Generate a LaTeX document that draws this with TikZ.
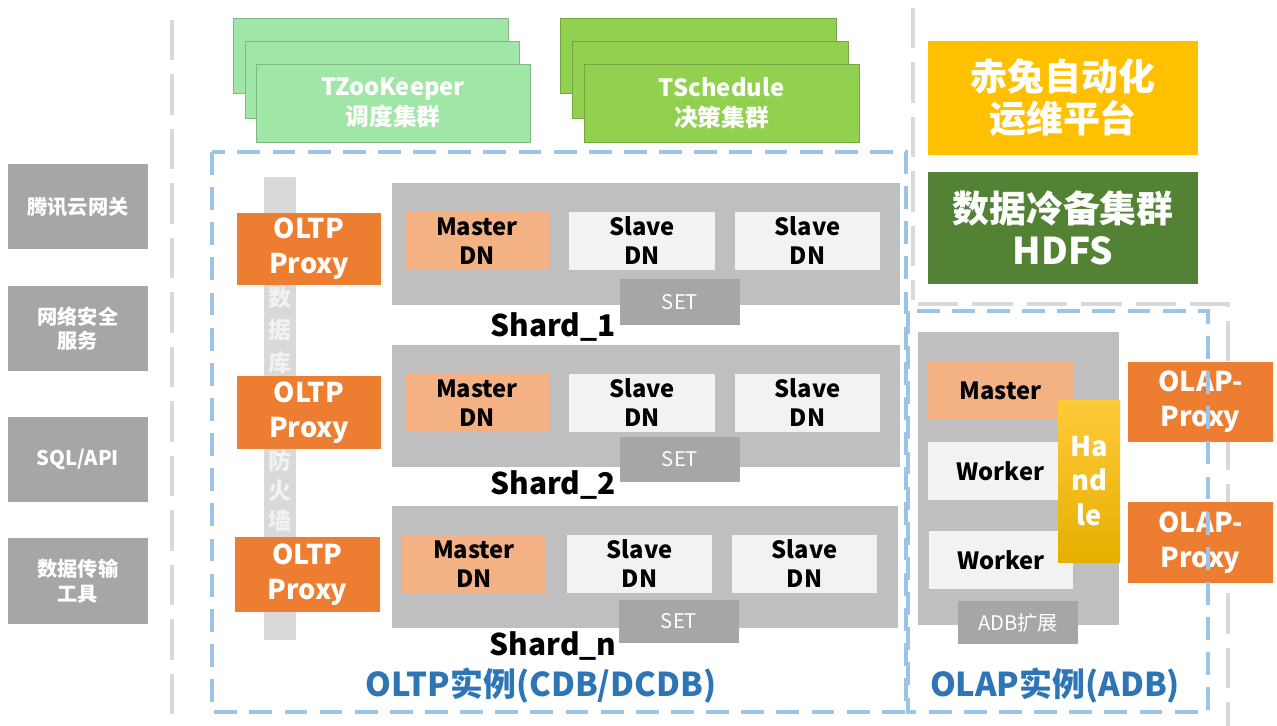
\documentclass[tikz,border=0pt]{standalone}
\usepackage{fontspec}
\setmainfont{Noto Sans CJK SC}
\definecolor{sidegray}{HTML}{A6A6A6}
\definecolor{zkgreen}{HTML}{A0E6A6}
\definecolor{tsgreen}{HTML}{92D050}
\definecolor{opsyellow}{HTML}{FFC000}
\definecolor{hdfsgreen}{HTML}{548235}
\definecolor{proxyorange}{HTML}{ED7D31}
\definecolor{masterfill}{HTML}{F4B183}
\definecolor{slavefill}{HTML}{F2F2F2}
\definecolor{shardfill}{HTML}{BFBFBF}
\definecolor{linegray}{HTML}{D9D9D9}
\definecolor{dashblue}{HTML}{9DC3E6}
\definecolor{titleblue}{HTML}{2E75B6}
\definecolor{handletop}{HTML}{FFCA3A}
\definecolor{handlebot}{HTML}{E5B000}
\newcommand\setfs[2]{\fontsize{#1}{#2}\selectfont}

\begin{document}
\begin{tikzpicture}[x=0.02cm, y=-0.02cm,
  every node/.style = {inner sep=0pt, outer sep=0pt, align=center},
  sz/.style 2 args = {minimum width=#1*0.02cm, minimum height=#2*0.02cm},
  sidebox/.style = {fill=sidegray, text=white, font=\bfseries\setfs{11.5}{14}},
  zkbox/.style = {fill=zkgreen, draw=zkgreen!80!black, line width=0.3pt},
  tsbox/.style = {fill=tsgreen, draw=tsgreen!80!black, line width=0.3pt},
  clustertext/.style = {text=white, font=\bfseries\setfs{13.5}{17}},
  bigbox/.style = {text=white, font=\bfseries\setfs{21}{24}},
  proxy/.style = {fill=proxyorange, text=white, font=\bfseries\setfs{15.5}{20}},
  shard/.style = {fill=shardfill},
  master/.style = {fill=masterfill, font=\bfseries\setfs{13.5}{16.5}},
  slave/.style = {fill=slavefill, font=\bfseries\setfs{13.5}{16.5}},
  setbox/.style = {fill=sidegray, text=white, font=\setfs{11.5}{14}},
  shardname/.style = {font=\bfseries\setfs{17}{20}},
  instname/.style = {text=titleblue, font=\bfseries\setfs{18.7}{22}},
  graydash/.style = {draw=linegray, line width=2.8pt, dash pattern=on 23pt off 8pt},
  bluedash/.style = {draw=dashblue, line width=2.3pt, dash pattern=on 13pt off 7pt}]
  \useasboundingbox (0,0) rectangle (1277,726);

  \draw[graydash] (172,20) -- (172,726);
  \draw[graydash] (913,8) -- (913,300);
  \draw[graydash] (918,304) -- (1228,304) -- (1228,726);

  \node[sidebox, sz={140}{85}] (gw) at (78,206.5) {腾讯云网关};
  \node[sidebox, sz={140}{85}] (sec) at (78,328.5) {网络安全\\服务};
  \node[sidebox, sz={140}{85}] (api) at (78,459.5) {SQL/API};
  \node[sidebox, sz={140}{86}] (dts) at (78,581) {数据传输\\工具};

  \path[zkbox] (233,18) rectangle (508,93);
  \path[zkbox] (245,41) rectangle (519,118);
  \node[zkbox, clustertext, sz={274}{78}] (zk) at (393,103) {TZooKeeper\\调度集群};
  \path[tsbox] (560,18) rectangle (836,93);
  \path[tsbox] (572,41) rectangle (848,118);
  \node[tsbox, clustertext, sz={275}{78}] (ts) at (721.5,103) {TSchedule\\决策集群};

  \node[bigbox, fill=opsyellow, sz={270}{114}] (ops) at (1063,98) {赤兔自动化\\运维平台};
  \node[bigbox, fill=hdfsgreen, sz={270}{111}] (hdfs) at (1063,228) {数据冷备集群\\HDFS};

  \node[fill=linegray, sz={32}{463}] (fw) at (280,408.5) {};
  \node[text=slavefill, font=\bfseries\setfs{13}{18.5}] (fwa) at (280,330) {数\\据\\库};
  \node[text=slavefill, font=\bfseries\setfs{13}{17}] (fwb) at (280,491) {防\\火\\墙};

  \node[shard, sz={508}{122}] (s1) at (646,244) {};
  \node[master, sz={144}{58}] (m1) at (477,241) {Master\\DN};
  \node[slave, sz={146}{58}] (s1a) at (642,241) {Slave\\DN};
  \node[slave, sz={145}{58}] (s1b) at (807.5,241) {Slave\\DN};
  \node[setbox, sz={120}{46}] (set1) at (680,302) {SET};
  \node[shardname] (n1) at (553,327) {Shard\_1};

  \node[shard, sz={508}{122}] (s2) at (646,406) {};
  \node[master, sz={144}{58}] (m2) at (477,403) {Master\\DN};
  \node[slave, sz={146}{58}] (s2a) at (642,403) {Slave\\DN};
  \node[slave, sz={145}{58}] (s2b) at (807.5,403) {Slave\\DN};
  \node[setbox, sz={120}{45}] (set2) at (680,459.5) {SET};
  \node[shardname] (n2) at (553,485) {Shard\_2};

  \node[shard, sz={506}{122}] (sn) at (645,567) {};
  \node[master, sz={144}{58}] (mn) at (474,564) {Master\\DN};
  \node[slave, sz={145}{58}] (sna) at (639.5,564) {Slave\\DN};
  \node[slave, sz={145}{58}] (snb) at (804.5,564) {Slave\\DN};
  \node[setbox, sz={120}{43}] (setn) at (679,621.5) {SET};
  \node[shardname] (nn) at (553,646) {Shard\_n};

  \node[proxy, sz={144}{72}] (p1) at (309,249) {OLTP\\Proxy};
  \node[proxy, sz={144}{73}] (p2) at (309,412.5) {OLTP\\Proxy};
  \node[proxy, sz={145}{75}] (p3) at (307.5,574.5) {OLTP\\Proxy};

  \node[shard, sz={201}{293}] (adb) at (1018.5,478.5) {};
  \node[master, sz={145}{58}] (am) at (1000.5,391) {Master};
  \node[slave, sz={145}{58}] (w1) at (1000.5,471) {Worker};
  \node[slave, sz={144}{58}] (w2) at (1001,560) {Worker};
  \node[top color=handletop, bottom color=handlebot, text=white,
    font=\bfseries\setfs{15.5}{19.5}, sz={62}{162}] (hd) at (1089,481) {Ha\\nd\\le};
  \node[setbox, sz={120}{43}] (ext) at (1018,622.5) {ADB扩展};

  \node[proxy, sz={145}{80}] (ap1) at (1200.5,402) {OLAP-\\Proxy};
  \node[proxy, sz={145}{81}] (ap2) at (1200.5,542.5) {OLAP-\\Proxy};

  \draw[bluedash] (212,152) rectangle (906,712);
  \draw[bluedash] (908,311) rectangle (1208,712);
  \node[instname] (oltp) at (541,686) {OLTP实例(CDB/DCDB)};
  \node[instname] (olap) at (1055,686) {OLAP实例(ADB)};
\end{tikzpicture}
\end{document}
